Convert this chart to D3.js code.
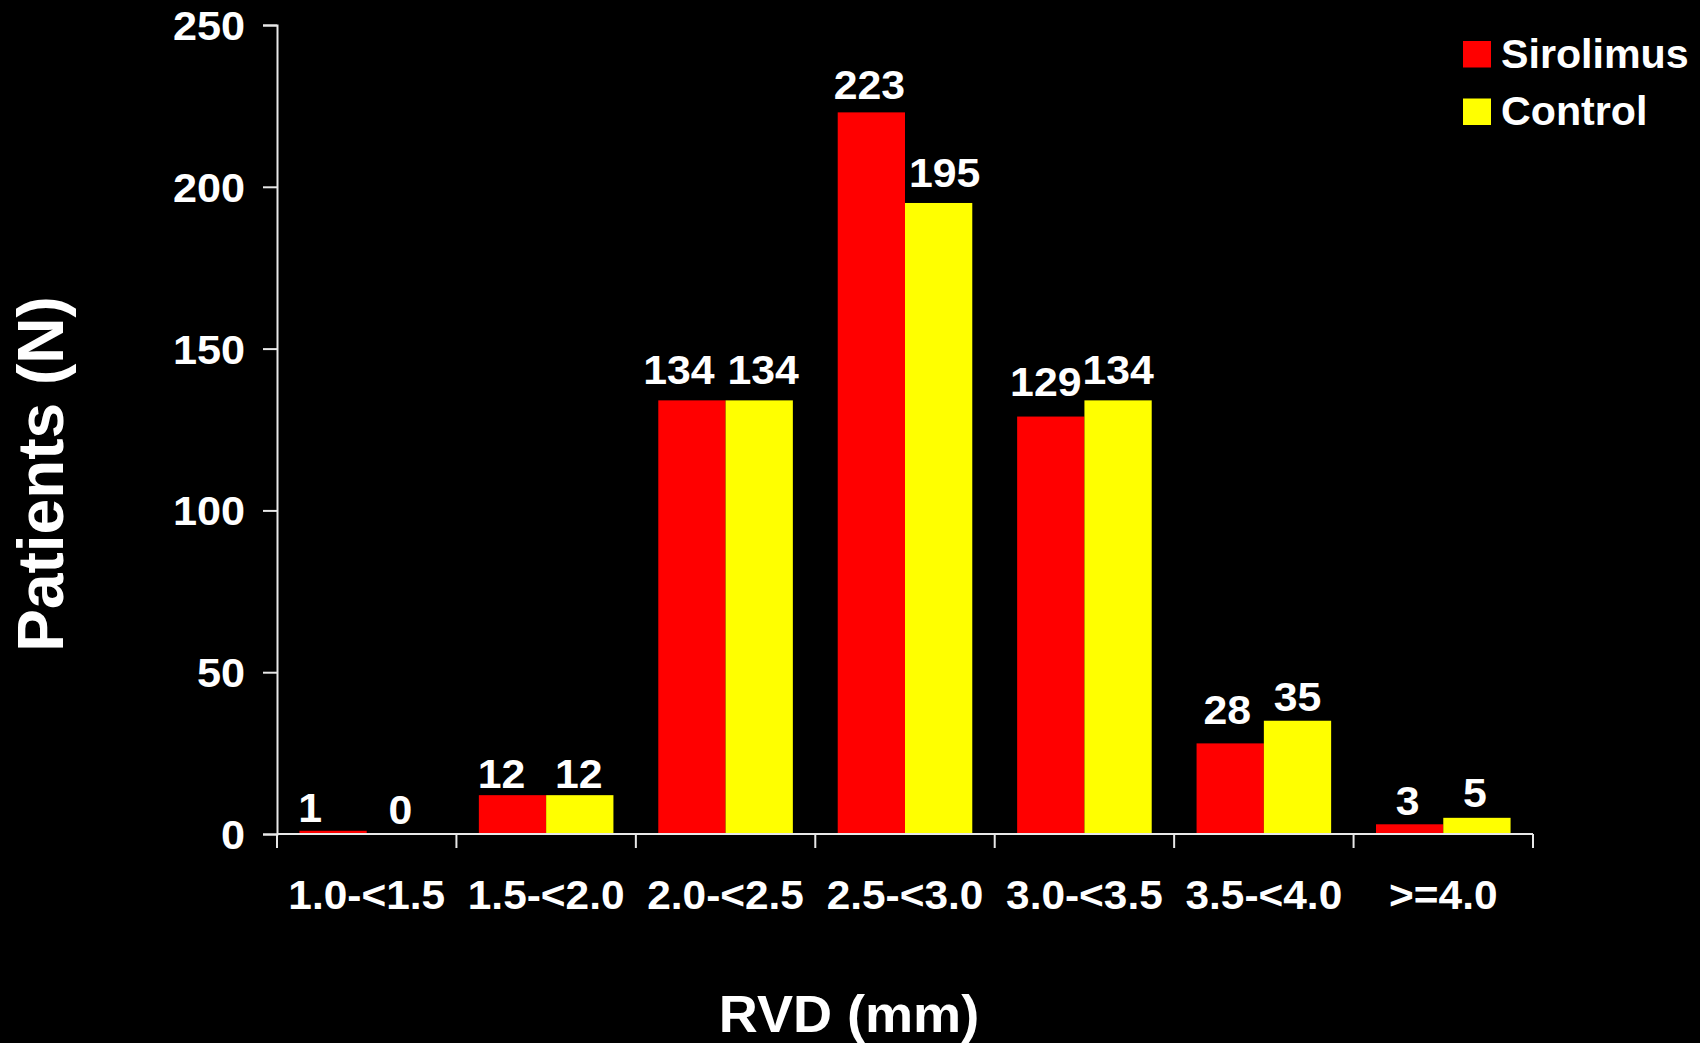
<!DOCTYPE html>
<html>
<head>
<meta charset="utf-8">
<script src="https://cdn.jsdelivr.net/npm/d3@7"></script>
<style>
  html, body { margin: 0; padding: 0; background: #000; }
  svg { display: block; }
  text { font-family: "Liberation Sans", Arial, sans-serif; font-weight: bold; fill: #fff; }
</style>
</head>
<body>
<svg id="chart" width="1700" height="1043"></svg>
<script>
// RVD size groups and patient counts per arm
const categories = ["1.0-<1.5", "1.5-<2.0", "2.0-<2.5", "2.5-<3.0", "3.0-<3.5", "3.5-<4.0", ">=4.0"];
const sirolimus = [1, 12, 134, 223, 129, 28, 3];
const control = [0, 12, 134, 195, 134, 35, 5];
const seriesNames = ["Sirolimus", "Control"];
const yTicks = [0, 50, 100, 150, 200, 250];

const colors = { Sirolimus: "#ff0000", Control: "#ffff00" };
const axisColor = "#e8e8e8";

// hand-set nudges for the value labels (px): [dx, lift above bar top]
const labelNudge = {
  Sirolimus: [[-23, 9], [-11, 7], [-13, 16], [-2, 13], [-5, 21], [-3, 19], [-2, 9]],
  Control:   [[0, 10], [-1, 7], [4, 16], [6, 16], [0, 16], [0, 10], [-2, 11]]
};

const svg = d3.select("#chart");
svg.append("rect").attr("width", 1700).attr("height", 1043).attr("fill", "#000");

const plot = { left: 277, right: 1533, top: 25, bottom: 834 };

const x0 = d3.scaleBand()
  .domain(categories)
  .range([plot.left, plot.right])
  .paddingInner(0.25)
  .paddingOuter(0.125);

const x1 = d3.scaleBand()
  .domain(seriesNames)
  .range([0, x0.bandwidth()]);

const y = d3.scaleLinear().domain([0, 250]).range([plot.bottom, plot.top]);

// place a text node with a horizontal stretch
function placeText(sel, xf, yf, sx) {
  sel.attr("x", 0).attr("y", 0)
    .attr("transform", (d, i) => `translate(${xf(d, i)},${yf(d, i)}) scale(${sx},1)`);
}

// bars
const rows = categories.map((c, i) => ({ cat: c, values: [
  { key: "Sirolimus", value: sirolimus[i], idx: i },
  { key: "Control", value: control[i], idx: i }
]}));

const groups = svg.append("g").selectAll("g")
  .data(rows).join("g")
  .attr("transform", d => `translate(${x0(d.cat)},0)`);

groups.selectAll("rect")
  .data(d => d.values).join("rect")
  .attr("x", d => x1(d.key))
  .attr("y", d => y(d.value))
  .attr("width", x1.bandwidth())
  .attr("height", d => plot.bottom - y(d.value))
  .attr("fill", d => colors[d.key]);

// value labels
groups.selectAll("text.val")
  .data(d => d.values).join("text")
  .attr("class", "val")
  .attr("text-anchor", "middle")
  .style("font-size", "40px")
  .call(placeText,
    d => x1(d.key) + x1.bandwidth() / 2 + labelNudge[d.key][d.idx][0],
    d => y(d.value) - labelNudge[d.key][d.idx][1],
    1.07)
  .text(d => d.value);

// y axis
const yAxis = d3.axisLeft(y).tickValues(yTicks).tickSize(14).tickFormat(d3.format("d"));
const gy = svg.append("g").attr("transform", `translate(${plot.left},0)`).call(yAxis);
gy.select(".domain").attr("stroke", axisColor).attr("stroke-width", 2);
gy.selectAll(".tick line").attr("stroke", axisColor).attr("stroke-width", 2);
gy.selectAll(".tick text")
  .attr("text-anchor", "end")
  .attr("dy", null)
  .style("font-size", "40px")
  .attr("fill", "#fff")
  .call(placeText, () => -32, () => 14.5, 1.08);

// x axis with ticks at group boundaries
const xBounds = d3.range(categories.length + 1).map(i => plot.left + i * x0.step());
svg.append("line")
  .attr("x1", plot.left).attr("x2", plot.right)
  .attr("y1", plot.bottom).attr("y2", plot.bottom)
  .attr("stroke", axisColor).attr("stroke-width", 2);
svg.append("g").selectAll("line")
  .data(xBounds).join("line")
  .attr("x1", d => d).attr("x2", d => d)
  .attr("y1", plot.bottom).attr("y2", plot.bottom + 14)
  .attr("stroke", axisColor).attr("stroke-width", 2);

svg.append("g").selectAll("text")
  .data(categories).join("text")
  .attr("text-anchor", "middle")
  .style("font-size", "40px")
  .call(placeText, d => x0(d) + x0.bandwidth() / 2, () => 909, 1.06)
  .text(d => d);

// axis titles
svg.append("text")
  .attr("text-anchor", "middle")
  .style("font-size", "52px")
  .attr("transform", `translate(849,1032) scale(1.04,1)`)
  .text("RVD (mm)");

svg.append("text")
  .attr("text-anchor", "middle")
  .style("font-size", "64px")
  .attr("transform", `translate(63,474) rotate(-90)`)
  .text("Patients (N)");

// legend
const legend = svg.append("g").selectAll("g")
  .data(seriesNames).join("g")
  .attr("transform", (d, i) => `translate(1463,${41 + i * 57.5})`);
legend.append("rect")
  .attr("width", 28).attr("height", 26.5)
  .attr("fill", d => colors[d]);
legend.append("text")
  .style("font-size", "40px")
  .call(placeText, () => 38, () => 26.5, 1.03)
  .text(d => d);
</script>
</body>
</html>
